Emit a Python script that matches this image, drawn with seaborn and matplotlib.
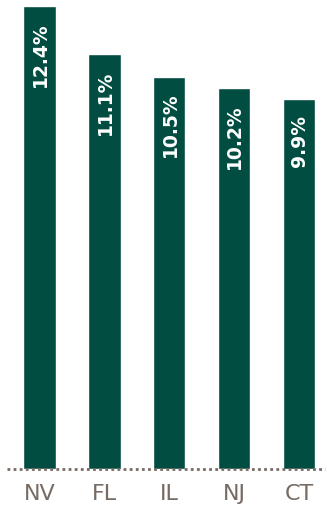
import matplotlib
matplotlib.use("Agg")
import matplotlib.pyplot as plt
import seaborn as sns
import pandas as pd

states = ["NV", "FL", "IL", "NJ", "CT"]
rates = [12.4, 11.1, 10.5, 10.2, 9.9]
labels = ["12.4%", "11.1%", "10.5%", "10.2%", "9.9%"]

bar_color = "#024d41"
text_grey = "#776b64"

sns.set_theme(style="white")
plt.rcParams["font.family"] = ["DejaVu Sans"]

df = pd.DataFrame({"state": states, "rate": rates})

fig = plt.figure(figsize=(3.27, 5.12), dpi=100)
ax = fig.add_axes([7 / 327, (512 - 468.5) / 512, 318 / 327, 468.5 / 512])

sns.barplot(data=df, x="state", y="rate", color=bar_color, saturation=1,
            width=0.5, ax=ax)

for patch, lab in zip(ax.patches, labels):
    x = patch.get_x() + patch.get_width() / 2
    ax.annotate(lab, (x, patch.get_height()), xytext=(0.5, -11.5),
                textcoords="offset points", rotation=90, ha="center", va="top",
                color="white", fontsize=13.5, fontweight="bold")

ax.set_xlim(-0.5, 4.4)
ax.set_ylim(0, 12.56)
ax.axhline(0, color=text_grey, lw=2, ls=(0, (1, 1.2)), clip_on=False)

for s in ax.spines.values():
    s.set_visible(False)
ax.set_yticks([])
ax.set_xlabel("")
ax.set_ylabel("")
ax.tick_params(axis="x", length=0, pad=11, labelsize=16, labelcolor=text_grey)

fig.savefig("out.png", dpi=100)
